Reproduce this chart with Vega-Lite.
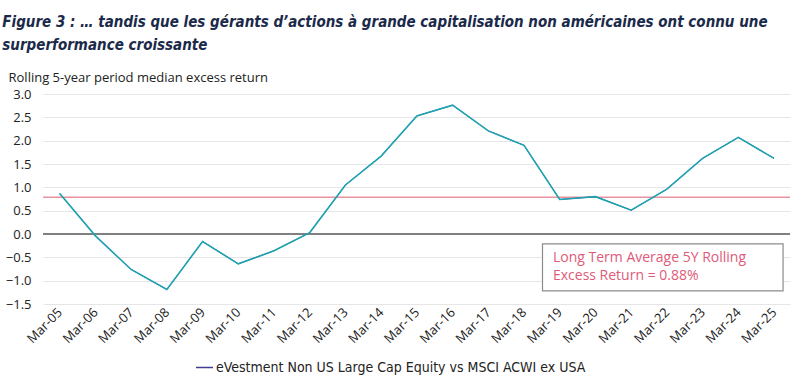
{
  "$schema": "https://vega.github.io/schema/vega-lite/v6.json",
  "autosize": "none",
  "width": 747,
  "height": 210,
  "padding": {"left": 43, "top": 94, "right": 5, "bottom": 76},
  "background": "white",
  "title": {
    "text": ["Figure 3 : … tandis que les gérants d’actions à grande capitalisation non américaines ont connu une", "surperformance croissante"],
    "anchor": "start",
    "frame": "bounds",
    "font": "DejaVu Sans Condensed",
    "fontSize": 15,
    "fontStyle": "italic",
    "fontWeight": "bold",
    "color": "#1B2A4A",
    "lineHeight": 23,
    "offset": 18,
    "dx": -3
  },
  "config": {
    "view": {"stroke": null},
    "font": "Open Sans"
  },
  "datasets": {
    "series": [
      {"date": "2005-03-15", "value": 0.87, "series": "eVestment Non US Large Cap Equity vs MSCI ACWI ex USA"},
      {"date": "2006-03-15", "value": -0.04, "series": "eVestment Non US Large Cap Equity vs MSCI ACWI ex USA"},
      {"date": "2007-03-15", "value": -0.76, "series": "eVestment Non US Large Cap Equity vs MSCI ACWI ex USA"},
      {"date": "2008-03-15", "value": -1.19, "series": "eVestment Non US Large Cap Equity vs MSCI ACWI ex USA"},
      {"date": "2009-03-15", "value": -0.16, "series": "eVestment Non US Large Cap Equity vs MSCI ACWI ex USA"},
      {"date": "2010-03-15", "value": -0.64, "series": "eVestment Non US Large Cap Equity vs MSCI ACWI ex USA"},
      {"date": "2011-03-15", "value": -0.36, "series": "eVestment Non US Large Cap Equity vs MSCI ACWI ex USA"},
      {"date": "2012-03-15", "value": 0.03, "series": "eVestment Non US Large Cap Equity vs MSCI ACWI ex USA"},
      {"date": "2013-03-15", "value": 1.05, "series": "eVestment Non US Large Cap Equity vs MSCI ACWI ex USA"},
      {"date": "2014-03-15", "value": 1.67, "series": "eVestment Non US Large Cap Equity vs MSCI ACWI ex USA"},
      {"date": "2015-03-15", "value": 2.53, "series": "eVestment Non US Large Cap Equity vs MSCI ACWI ex USA"},
      {"date": "2016-03-15", "value": 2.76, "series": "eVestment Non US Large Cap Equity vs MSCI ACWI ex USA"},
      {"date": "2017-03-15", "value": 2.21, "series": "eVestment Non US Large Cap Equity vs MSCI ACWI ex USA"},
      {"date": "2018-03-15", "value": 1.9, "series": "eVestment Non US Large Cap Equity vs MSCI ACWI ex USA"},
      {"date": "2019-03-15", "value": 0.74, "series": "eVestment Non US Large Cap Equity vs MSCI ACWI ex USA"},
      {"date": "2020-03-15", "value": 0.8, "series": "eVestment Non US Large Cap Equity vs MSCI ACWI ex USA"},
      {"date": "2021-03-15", "value": 0.51, "series": "eVestment Non US Large Cap Equity vs MSCI ACWI ex USA"},
      {"date": "2022-03-15", "value": 0.96, "series": "eVestment Non US Large Cap Equity vs MSCI ACWI ex USA"},
      {"date": "2023-03-15", "value": 1.62, "series": "eVestment Non US Large Cap Equity vs MSCI ACWI ex USA"},
      {"date": "2024-03-15", "value": 2.07, "series": "eVestment Non US Large Cap Equity vs MSCI ACWI ex USA"},
      {"date": "2025-03-15", "value": 1.62, "series": "eVestment Non US Large Cap Equity vs MSCI ACWI ex USA"}
    ],
    "box": [
      {"start": "2018-09-20", "end": "2025-06-15", "top": -0.21, "bottom": -1.22, "tx": "2019-01-05", "ty": -0.37, "label": "Long Term Average 5Y Rolling\nExcess Return = 0.88%"}
    ]
  },
  "layer": [
    {
      "data": {"name": "series"},
      "mark": {"type": "line", "strokeWidth": 1, "opacity": 0},
      "encoding": {
        "x": {
          "field": "date", "type": "temporal",
          "scale": {"domain": [{"year": 2004, "month": 9, "date": 25}, {"year": 2025, "month": 8, "date": 25}]},
          "axis": {
            "title": null,
            "values": [
              {"year": 2005, "month": 3, "date": 15}, {"year": 2006, "month": 3, "date": 15}, {"year": 2007, "month": 3, "date": 15},
              {"year": 2008, "month": 3, "date": 15}, {"year": 2009, "month": 3, "date": 15}, {"year": 2010, "month": 3, "date": 15},
              {"year": 2011, "month": 3, "date": 15}, {"year": 2012, "month": 3, "date": 15}, {"year": 2013, "month": 3, "date": 15},
              {"year": 2014, "month": 3, "date": 15}, {"year": 2015, "month": 3, "date": 15}, {"year": 2016, "month": 3, "date": 15},
              {"year": 2017, "month": 3, "date": 15}, {"year": 2018, "month": 3, "date": 15}, {"year": 2019, "month": 3, "date": 15},
              {"year": 2020, "month": 3, "date": 15}, {"year": 2021, "month": 3, "date": 15}, {"year": 2022, "month": 3, "date": 15},
              {"year": 2023, "month": 3, "date": 15}, {"year": 2024, "month": 3, "date": 15}, {"year": 2025, "month": 3, "date": 15}
            ],
            "tickCount": 40,
            "format": "%b-%y",
            "labelAngle": -45,
            "labelAlign": "right",
            "labelBaseline": "middle",
            "labelFontSize": 13,
            "labelColor": "#222222",
            "labelPadding": 6,
            "labelOverlap": false,
            "labelFlush": false,
            "grid": false,
            "ticks": false,
            "domain": false
          }
        },
        "y": {
          "field": "value", "type": "quantitative",
          "scale": {"domain": [-1.5, 3], "nice": false, "zero": false},
          "axis": {
            "values": [-1.5, -1, -0.5, 0, 0.5, 1, 1.5, 2, 2.5, 3],
            "tickCount": 20,
            "format": ".1f",
            "labelFontSize": 13,
            "labelColor": "#222222",
            "labelPadding": 12,
            "labelOverlap": false,
            "ticks": false,
            "domain": false,
            "gridColor": "#E6E6E6",
            "gridWidth": 1,
            "title": "Rolling 5-year period median excess return",
            "titleAngle": 0,
            "titleAlign": "left",
            "titleBaseline": "middle",
            "titleX": -35,
            "titleY": -17,
            "titleFontSize": 13,
            "titleFontWeight": "normal",
            "titleColor": "#222222"
          }
        }
      }
    },
    {
      "data": {"values": [{"y": 0}]},
      "mark": {"type": "rule", "color": "#808080", "strokeWidth": 2},
      "encoding": {"y": {"field": "y", "type": "quantitative"}}
    },
    {
      "data": {"values": [{"y": 0.79}]},
      "mark": {"type": "rule", "color": "#E8919F", "strokeWidth": 1.5},
      "encoding": {"y": {"field": "y", "type": "quantitative"}}
    },
    {
      "data": {"name": "series"},
      "mark": {"type": "line", "strokeWidth": 1},
      "encoding": {
        "x": {"field": "date", "type": "temporal"},
        "y": {"field": "value", "type": "quantitative"},
        "color": {
          "field": "series", "type": "nominal",
          "scale": {"range": ["#403C90"]},
          "legend": {
            "title": null,
            "orient": "none",
            "legendX": 152,
            "legendY": 264,
            "direction": "horizontal",
            "symbolType": "stroke",
            "symbolSize": 289,
            "symbolStrokeWidth": 1.5,
            "labelFont": "DejaVu Sans Condensed",
            "labelFontSize": 14,
            "labelColor": "#222222",
            "labelOffset": 2,
            "labelLimit": 600
          }
        }
      }
    },
    {
      "data": {"name": "series"},
      "mark": {"type": "line", "strokeWidth": 1.6, "color": "#1FA2B1"},
      "encoding": {
        "x": {"field": "date", "type": "temporal"},
        "y": {"field": "value", "type": "quantitative"}
      }
    },
    {
      "data": {"name": "box"},
      "mark": {"type": "rect", "fill": "white", "stroke": "#8C8C8C", "strokeWidth": 1.2},
      "encoding": {
        "x": {"field": "start", "type": "temporal"},
        "x2": {"field": "end"},
        "y": {"field": "top", "type": "quantitative"},
        "y2": {"field": "bottom"}
      }
    },
    {
      "data": {"name": "box"},
      "mark": {"type": "text", "align": "left", "baseline": "top", "fontSize": 14, "lineHeight": 17.5, "color": "#DF5A78", "lineBreak": "\n"},
      "encoding": {
        "x": {"field": "tx", "type": "temporal"},
        "y": {"field": "ty", "type": "quantitative"},
        "text": {"field": "label"}
      }
    }
  ]
}
